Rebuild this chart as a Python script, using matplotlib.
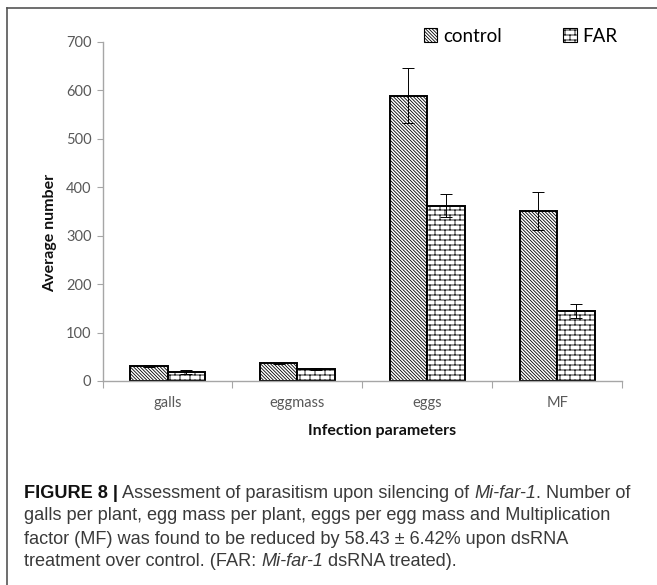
import warnings
warnings.filterwarnings("ignore")
import numpy as np
import matplotlib
matplotlib.use("Agg")
import matplotlib.pyplot as plt
import matplotlib.hatch as mhatch
from matplotlib.path import Path
from matplotlib.patches import Patch

# ---------------- data ----------------
categories = ["galls", "eggmass", "eggs", "MF"]
control_values = [30, 37, 589, 351]
control_errors = [2, 1, 56, 39]
far_values = [18, 24, 362, 144]
far_errors = [4, 2, 23, 15]
series_names = ["control", "FAR"]
y_ticks = [0, 100, 200, 300, 400, 500, 600, 700]


# ---------------- custom brick hatch ----------------
class BrickHatch(mhatch.HatchPatternBase):
    def __init__(self, hatch, density):
        n = hatch.count('B')
        self.rows = 20 if n else 0
        self.cols = 10
        if self.rows:
            n_h = self.rows + 1
            n_v = 0
            for i in range(self.rows):
                n_v += (self.cols + 1) if i % 2 == 0 else self.cols
            self.num_vertices = 2 * (n_h + n_v)
        else:
            self.num_vertices = 0

    def set_vertices_and_codes(self, vertices, codes):
        k = 0
        for i in range(self.rows + 1):
            y = i / self.rows
            vertices[k] = (0.0, y); codes[k] = Path.MOVETO; k += 1
            vertices[k] = (1.0, y); codes[k] = Path.LINETO; k += 1
        for i in range(self.rows):
            y0 = i / self.rows
            y1 = (i + 1) / self.rows
            if i % 2 == 0:
                xs = [j / self.cols for j in range(self.cols + 1)]
            else:
                xs = [(j + 0.5) / self.cols for j in range(self.cols)]
            for x in xs:
                vertices[k] = (x, y0); codes[k] = Path.MOVETO; k += 1
                vertices[k] = (x, y1); codes[k] = Path.LINETO; k += 1


mhatch._hatch_types.append(BrickHatch)

plt.rcParams['hatch.linewidth'] = 0.6
chart_font = ['Lato', 'DejaVu Sans']
plt.rcParams['font.family'] = chart_font

W, H = 657, 585
fig = plt.figure(figsize=(W / 100, H / 100), dpi=100)

ax_l, ax_r = 102.6 / W, 622 / W
ax_b, ax_t = 1 - 381 / H, 1 - 41.7 / H
ax = fig.add_axes([ax_l, ax_b, ax_r - ax_l, ax_t - ax_b])

x = np.arange(len(categories))
bw = 0.289
hatch_ctrl = '\\' * 10
hatch_far = 'B'

ax.bar(x - bw / 2, control_values, bw, facecolor='white', edgecolor='black',
       linewidth=1.4, hatch=hatch_ctrl, zorder=2)
ax.bar(x + bw / 2, far_values, bw, facecolor='white', edgecolor='black',
       linewidth=1.4, hatch=hatch_far, zorder=2)
ax.errorbar(x - bw / 2, control_values, yerr=control_errors, fmt='none',
            ecolor='black', elinewidth=0.7, capsize=4, capthick=0.7, zorder=3)
ax.errorbar(x + bw / 2, far_values, yerr=far_errors, fmt='none',
            ecolor='black', elinewidth=0.7, capsize=4, capthick=0.7, zorder=3)

ax.set_xlim(-0.5, len(categories) - 0.5)
ax.set_ylim(0, 700)
ax.set_yticks(y_ticks)
ax.set_xticks(x)
ax.set_xticklabels(categories)
ax.set_xticks(np.arange(len(categories) + 1) - 0.5, minor=True)

grey = '#A6A6A6'
for s in ['top', 'right']:
    ax.spines[s].set_visible(False)
for s in ['left', 'bottom']:
    ax.spines[s].set_color(grey)
    ax.spines[s].set_linewidth(1.0)
ax.tick_params(axis='y', colors=grey, labelcolor='#595959', length=4,
               width=0.8, labelsize=10.5, pad=4)
ax.tick_params(axis='x', which='major', length=0, labelcolor='#595959',
               labelsize=10.5, pad=11)
ax.tick_params(axis='x', which='minor', length=5, color=grey, width=0.8)

ax.set_ylabel("Average number", fontsize=11.5, fontweight='bold',
              color='#111111')
ax.yaxis.set_label_coords(-0.088, 0.436)
ax.set_xlabel("Infection parameters", fontsize=11.5, fontweight='bold',
              color='#111111')
ax.xaxis.set_label_coords(0.538, -0.128)

handles = [Patch(facecolor='white', edgecolor='black', hatch=hatch_ctrl, linewidth=0.8),
           Patch(facecolor='white', edgecolor='black', hatch=hatch_far, linewidth=0.8)]
fig.legend(handles, series_names, loc='center left',
           bbox_to_anchor=(424 / W, 1 - 36 / H), ncol=2, frameon=False,
           fontsize=13.5, handlelength=0.7, handleheight=0.7,
           handletextpad=0.3, columnspacing=3.3, borderaxespad=0,
           borderpad=0)

# frame lines (top and left)
fig.add_artist(plt.Line2D([7 / W, 1], [1 - 8 / H, 1 - 8 / H],
                          transform=fig.transFigure, color='#555555', lw=1.2))
fig.add_artist(plt.Line2D([7 / W, 7 / W], [0, 1 - 8 / H],
                          transform=fig.transFigure, color='#555555', lw=1.2))

# ---------------- caption ----------------
cap_font = ['Liberation Sans', 'DejaVu Sans']
cap_lines = [
    [("FIGURE 8 |", 'bold'), (" Assessment of parasitism upon silencing of ", 'normal'),
     ("Mi-far-1", 'italic'), (". Number of", 'normal')],
    [("galls per plant, egg mass per plant, eggs per egg mass and Multiplication", 'normal')],
    [("factor (MF) was found to be reduced by 58.43 \u00b1 6.42% upon dsRNA", 'normal')],
    [("treatment over control. (FAR: ", 'normal'), ("Mi-far-1", 'italic'),
     (" dsRNA treated).", 'normal')],
]
cap_y = [493, 516, 539, 562]
renderer = fig.canvas.get_renderer()
cap_size = 13.1
for line, yy in zip(cap_lines, cap_y):
    xx = 24
    for txt, style in line:
        kw = dict(fontsize=cap_size, family=cap_font, va='center', ha='left',
                  color='#3a3a3a')
        if style == 'bold':
            kw['fontweight'] = 'bold'
            kw['color'] = '#111111'
        if style == 'italic':
            kw['style'] = 'italic'
        t = fig.text(xx / W, 1 - yy / H, txt, **kw)
        bb = t.get_window_extent(renderer=renderer)
        xx += bb.width

fig.savefig("out.png", dpi=100)
